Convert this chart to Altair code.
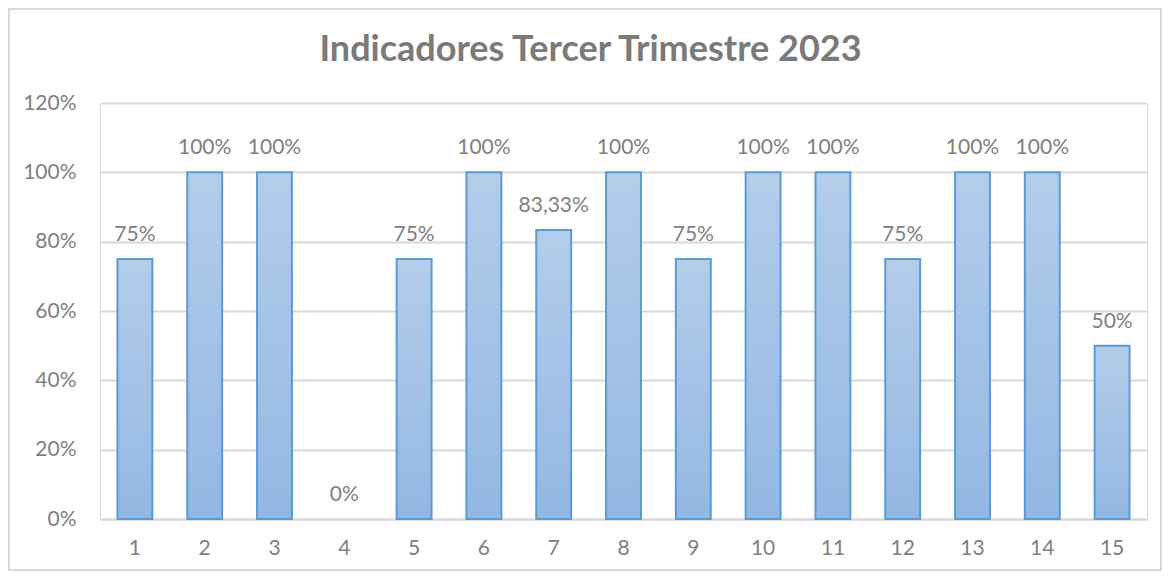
import altair as alt
import pandas as pd

categories = [str(i) for i in range(1, 16)]
values = [0.75, 1.0, 1.0, 0.0, 0.75, 1.0, 0.8333, 1.0, 0.75, 1.0, 1.0, 0.75, 1.0, 1.0, 0.5]
labels = ["75%", "100%", "100%", "0%", "75%", "100%", "83,33%", "100%", "75%",
          "100%", "100%", "75%", "100%", "100%", "50%"]
y_ticks = [0, 0.2, 0.4, 0.6, 0.8, 1.0, 1.2]
title_text = "Indicadores Tercer Trimestre 2023"

df = pd.DataFrame({"cat": categories, "val": values, "lab": labels})

W, H = 1047, 416
PL, PT, PR, PB = 92, 95, 15, 52
FONT = "Lato"
TXT = "#808080"
GRID = "#d9d9d9"

x_enc = alt.X("cat:N", sort=categories, title=None,
              scale=alt.Scale(paddingInner=0.5, paddingOuter=0.25),
              axis=alt.Axis(labelAngle=0, labelFont=FONT, labelFontSize=21,
                            labelColor=TXT, ticks=False, domainColor=GRID,
                            domainWidth=2, labelPadding=18, grid=False))
y_enc = alt.Y("val:Q", title=None,
              scale=alt.Scale(domain=[0, 1.2], nice=False),
              axis=alt.Axis(values=y_ticks, format=".0%", labelFont=FONT,
                            labelFontSize=21, labelColor=TXT, ticks=False,
                            domain=False, gridColor=GRID, gridWidth=2,
                            labelPadding=24))

base = alt.Chart(df)

border = base.mark_rect(fill=None, stroke=GRID, strokeWidth=2).encode(
    x=alt.value(-PL + 1), x2=alt.value(W + PR - 1),
    y=alt.value(-PT + 1), y2=alt.value(H + PB - 1))

bars = base.mark_bar(
    color=alt.Gradient(gradient="linear",
                       stops=[alt.GradientStop(color="#b3cdea", offset=0),
                              alt.GradientStop(color="#93b7e3", offset=1)],
                       x1=0, x2=0, y1=0, y2=1),
    stroke="#5b9bd5", strokeWidth=2
).encode(
    x=x_enc, y=y_enc,
    strokeOpacity=alt.condition(alt.datum.val > 0, alt.value(1), alt.value(0)))

text = base.mark_text(font=FONT, fontSize=21, color=TXT, dy=-24,
                      baseline="middle").encode(
    x=alt.X("cat:N", sort=categories), y="val:Q", text="lab:N")

chart = alt.layer(border, bars, text).properties(
    width=W, height=H,
    title=alt.TitleParams(title_text, font=FONT, fontSize=36, fontWeight="bold",
                          color="#7a7a7a", anchor="middle",
                          offset=-61, dx=-33),
    autosize=alt.AutoSizeParams(type="none"),
    padding={"left": PL, "top": PT, "right": PR, "bottom": PB}
).configure_view(stroke=None).configure(background="white")

chart.save("out.html", embed_options={"renderer": "svg", "actions": False})
